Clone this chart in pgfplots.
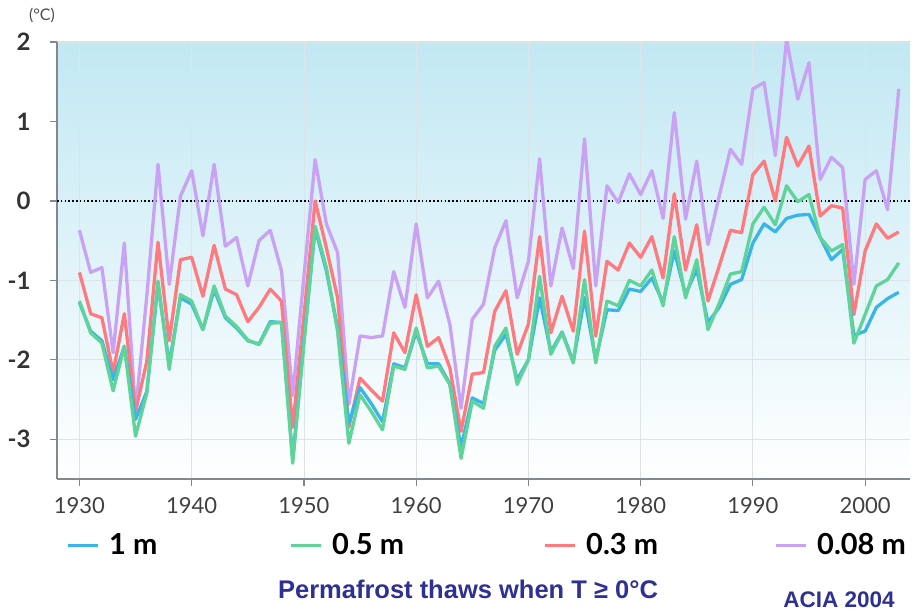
\documentclass[border=0pt]{standalone}
\usepackage{fontspec}
\setmainfont{Lato}
\newfontfamily\arialf{Liberation Sans}
\usepackage{pgfplots}
\usepackage{pgfplotstable}
\pgfplotsset{compat=1.18}
\definecolor{cBlue}{HTML}{3AB5E8}
\definecolor{cGreen}{HTML}{5FD39A}
\definecolor{cRed}{HTML}{FF7A7F}
\definecolor{cPurple}{HTML}{C9A2F4}
\definecolor{cTop}{HTML}{C2E8F3}
\definecolor{cNavy}{HTML}{2E3192}
\definecolor{cAxis}{HTML}{80898E}
\definecolor{cGrid}{HTML}{DCE4E7}

\pgfplotstableread{
year b g r p
1930 -1.28 -1.26 -0.90 -0.37
1931 -1.64 -1.66 -1.42 -0.90
1932 -1.76 -1.79 -1.47 -0.84
1933 -2.25 -2.39 -2.16 -1.91
1934 -1.83 -1.83 -1.42 -0.53
1935 -2.75 -2.96 -2.65 -2.65
1936 -2.40 -2.42 -2.02 -1.20
1937 -1.05 -1.01 -0.52 0.46
1938 -2.05 -2.12 -1.76 -1.05
1939 -1.22 -1.18 -0.74 0.06
1940 -1.30 -1.26 -0.71 0.38
1941 -1.62 -1.62 -1.20 -0.44
1942 -1.12 -1.07 -0.56 0.46
1943 -1.47 -1.45 -1.11 -0.57
1944 -1.60 -1.58 -1.18 -0.46
1945 -1.76 -1.75 -1.52 -1.07
1946 -1.80 -1.81 -1.34 -0.50
1947 -1.52 -1.54 -1.11 -0.37
1948 -1.53 -1.53 -1.26 -0.88
1949 -3.25 -3.30 -2.85 -2.45
1950 -1.75 -1.80 -1.45 -0.95
1951 -0.35 -0.32 0.00 0.52
1952 -0.88 -0.84 -0.59 -0.29
1953 -1.60 -1.64 -1.22 -0.65
1954 -2.80 -3.05 -2.85 -2.56
1955 -2.35 -2.44 -2.23 -1.70
1956 -2.55 -2.65 -2.38 -1.72
1957 -2.78 -2.88 -2.52 -1.70
1958 -2.05 -2.08 -1.66 -0.89
1959 -2.10 -2.12 -1.91 -1.34
1960 -1.65 -1.60 -1.18 -0.29
1961 -2.05 -2.10 -1.83 -1.22
1962 -2.05 -2.08 -1.72 -1.01
1963 -2.30 -2.31 -2.10 -1.55
1964 -3.10 -3.24 -2.90 -2.61
1965 -2.48 -2.52 -2.18 -1.49
1966 -2.55 -2.61 -2.16 -1.30
1967 -1.88 -1.83 -1.39 -0.59
1968 -1.68 -1.60 -1.13 -0.25
1969 -2.25 -2.31 -1.93 -1.22
1970 -2.00 -2.00 -1.55 -0.76
1971 -1.22 -0.95 -0.45 0.53
1972 -1.90 -1.93 -1.66 -1.07
1973 -1.65 -1.66 -1.20 -0.34
1974 -2.02 -2.04 -1.64 -0.85
1975 -1.22 -0.99 -0.38 0.78
1976 -2.00 -2.04 -1.70 -1.07
1977 -1.37 -1.26 -0.76 0.19
1978 -1.38 -1.32 -0.87 -0.02
1979 -1.11 -1.00 -0.53 0.34
1980 -1.14 -1.07 -0.71 0.08
1981 -0.97 -0.87 -0.45 0.38
1982 -1.28 -1.32 -0.97 -0.22
1983 -0.63 -0.45 0.09 1.11
1984 -1.18 -1.22 -0.87 -0.23
1985 -0.86 -0.74 -0.30 0.50
1986 -1.53 -1.62 -1.26 -0.55
1987 -1.34 -1.29 -0.82 0.06
1988 -1.05 -0.92 -0.37 0.65
1989 -0.99 -0.89 -0.40 0.46
1990 -0.53 -0.29 0.33 1.41
1991 -0.29 -0.08 0.50 1.49
1992 -0.39 -0.30 0.00 0.57
1993 -0.22 0.19 0.80 2.03
1994 -0.18 -0.01 0.44 1.28
1995 -0.17 0.08 0.69 1.74
1996 -0.46 -0.46 -0.19 0.27
1997 -0.74 -0.63 -0.06 0.55
1998 -0.61 -0.55 -0.09 0.42
1999 -1.69 -1.79 -1.43 -1.05
2000 -1.64 -1.43 -0.63 0.27
2001 -1.34 -1.07 -0.29 0.38
2002 -1.23 -0.99 -0.47 -0.11
2003 -1.15 -0.78 -0.39 1.41
}\datatable

\begin{document}
\begin{tikzpicture}
\begin{axis}[
  name=ax,
  scale only axis,
  width=853pt, height=437pt,
  xmin=1928, xmax=2004, ymin=-3.5, ymax=2,
  axis background/.style={top color=cTop, bottom color=white},
  axis x line*=bottom, axis y line*=left,
  axis line style={cAxis, line width=2pt},
  xtick={1930,1940,...,2000}, ytick={-3,-2,...,2},
  grid=major, major grid style={cGrid, line width=0.8pt},
  tick align=outside, major tick length=7pt,
  tick style={cAxis, line width=1.2pt},
  /pgf/number format/assume math mode=true,
  xticklabel style={font=\fontsize{22}{22}\selectfont, text=black!75, yshift=-8pt},
  yticklabel style={font=\fontsize{24}{24}\selectfont\bfseries, text=black!80, xshift=-16pt},
  xticklabel={\pgfmathprintnumber[1000 sep={}]{\tick}},
  legend columns=4,
  legend style={at={(0,0)}, anchor=west, xshift=6pt, yshift=-66pt,
    draw=none, fill=none, font=\fontsize{29}{29}\selectfont\bfseries,
    /tikz/every even column/.append style={column sep=0pt}},
  legend image code/.code={\draw[#1, line width=3pt] (0pt,0pt) -- (30pt,0pt);},
]
\addplot[black, line width=1.4pt, dash pattern=on 1.6pt off 2.2pt, forget plot] coordinates {(1928,0) (2004,0)};
\addplot[cPurple, line width=3.3pt, line join=round, forget plot] table[x=year, y=p] {\datatable};
\addplot[cRed, line width=3.3pt, line join=round, forget plot] table[x=year, y=r] {\datatable};
\addplot[cBlue, line width=3.3pt, line join=round, forget plot] table[x=year, y=b] {\datatable};
\addplot[cGreen, line width=3.3pt, line join=round, forget plot] table[x=year, y=g] {\datatable};
\addlegendimage{cBlue, line width=3pt}
\addlegendentry{\makebox[186pt][l]{\hspace{8pt}1 m}}
\addlegendimage{cGreen, line width=3pt}
\addlegendentry{\makebox[217pt][l]{\hspace{8pt}0.5 m}}
\addlegendimage{cRed, line width=3pt}
\addlegendentry{\makebox[194pt][l]{\hspace{8pt}0.3 m}}
\addlegendimage{cPurple, line width=3pt}
\addlegendentry{\hspace{8pt}0.08 m}
\end{axis}
\node[text=black!70, font=\fontsize{16}{16}\selectfont] at ([shift={(-15pt,464pt)}]ax.south west) {(°C)};
\node[text=cNavy, font=\arialf\bfseries\fontsize{25.5}{25.5}\selectfont] at ([shift={(411pt,-110pt)}]ax.south west) {Permafrost thaws when T ≥ 0°C};
\node[text=cNavy, font=\arialf\bfseries\fontsize{22.5}{22.5}\selectfont, inner sep=1pt] at ([shift={(782pt,-121pt)}]ax.south west) {ACIA 2004};
\pgfresetboundingbox
\path ([shift={(-57pt,-136pt)}]ax.south west) rectangle ([shift={(4pt,42pt)}]ax.north east);
\end{tikzpicture}
\end{document}
